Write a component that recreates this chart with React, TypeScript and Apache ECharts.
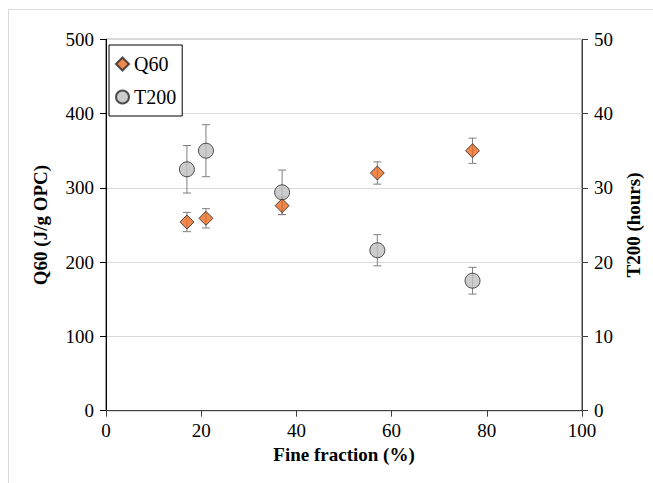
import React, { useEffect, useRef } from "react";
import * as echarts from "echarts";

const fineFraction = [17, 21, 37, 57, 77];
const q60 = [254, 259, 276, 320, 350];
const q60Err = [13, 13, 12, 15, 17];
const t200 = [32.5, 35.0, 29.4, 21.6, 17.5];
const t200Err = [3.2, 3.5, 3.0, 2.1, 1.8];

const FONT = "Liberation Serif";

function errRender(params: any, api: any) {
  const x = api.value(0);
  const y = api.value(1);
  const e = api.value(2);
  const top = api.coord([x, y + e]);
  const bot = api.coord([x, y - e]);
  const hw = 4;
  const style = { stroke: "#7f7f7f", lineWidth: 1 };
  return {
    type: "group",
    children: [
      { type: "line", shape: { x1: top[0], y1: top[1], x2: bot[0], y2: bot[1] }, style },
      { type: "line", shape: { x1: top[0] - hw, y1: top[1], x2: top[0] + hw, y2: top[1] }, style },
      { type: "line", shape: { x1: bot[0] - hw, y1: bot[1], x2: bot[0] + hw, y2: bot[1] }, style },
    ],
  };
}

export default function App() {
  const ref = useRef<HTMLDivElement>(null);
  useEffect(() => {
    if (!ref.current) return;
    const chart = echarts.init(ref.current, null, { renderer: "svg" });
    const axisLabel = { fontFamily: FONT, fontSize: 19, color: "#000" };
    const nameStyle = { fontFamily: FONT, fontSize: 19, fontWeight: "bold" as const, color: "#000" };
    chart.setOption({
      animation: false,
      backgroundColor: "#fff",
      textStyle: { fontFamily: FONT },
      graphic: [
        {
          type: "rect",
          shape: { x: 8.5, y: 9.5, width: 800, height: 800 },
          style: { fill: "none", stroke: "#d9d9d9", lineWidth: 1 },
          silent: true,
          z: -10,
        },
      ],
      grid: {
        left: 106,
        right: 71,
        top: 39.3,
        bottom: 72.3,
        show: true,
        borderColor: "#404040",
        borderWidth: 1,
        backgroundColor: "transparent",
      },
      legend: {
        data: ["Q60", "T200"],
        orient: "vertical",
        left: 109,
        top: 45,
        itemWidth: 13,
        itemHeight: 13,
        itemGap: 13,
        padding: [9, 6, 9, 6],
        borderColor: "#000",
        borderWidth: 1,
        backgroundColor: "#fff",
        selectedMode: false,
        textStyle: { fontFamily: FONT, fontSize: 20, color: "#000" },
      },
      xAxis: {
        type: "value",
        min: 0,
        max: 100,
        interval: 20,
        name: "Fine fraction (%)",
        nameLocation: "middle",
        nameGap: 25,
        nameTextStyle: nameStyle,
        axisLine: { show: true, lineStyle: { color: "#404040", width: 1 } },
        axisTick: { show: true, inside: false, length: 6, lineStyle: { color: "#404040" } },
        axisLabel: { ...axisLabel, margin: 10 },
        splitLine: { show: false },
      },
      yAxis: [
        {
          type: "value",
          min: 0,
          max: 500,
          interval: 100,
          name: "Q60 (J/g OPC)",
          nameLocation: "middle",
          nameGap: 56,
          nameRotate: 90,
          nameTextStyle: nameStyle,
          axisLine: { show: true, onZero: false, lineStyle: { color: "#000", width: 1 } },
          axisTick: { show: true, inside: false, length: 6, lineStyle: { color: "#000" } },
          axisLabel: { ...axisLabel, margin: 12 },
          splitLine: { show: true, lineStyle: { color: "#d9d9d9", width: 1 } },
        },
        {
          type: "value",
          min: 0,
          max: 50,
          interval: 10,
          position: "right",
          name: "T200 (hours)",
          nameLocation: "middle",
          nameGap: 40,
          nameRotate: 90,
          nameTextStyle: nameStyle,
          axisLine: { show: true, onZero: false, lineStyle: { color: "#404040", width: 1 } },
          axisTick: { show: true, inside: false, length: 6, lineStyle: { color: "#404040" } },
          axisLabel: { ...axisLabel, margin: 12 },
          splitLine: { show: false },
        },
      ],
      series: [
        {
          name: "Q60 err",
          type: "custom",
          yAxisIndex: 0,
          renderItem: errRender,
          encode: { x: 0, y: 1 },
          data: fineFraction.map((x, i) => [x, q60[i], q60Err[i]]),
          z: 1,
          silent: true,
        },
        {
          name: "T200 err",
          type: "custom",
          yAxisIndex: 1,
          renderItem: errRender,
          encode: { x: 0, y: 1 },
          data: fineFraction.map((x, i) => [x, t200[i], t200Err[i]]),
          z: 1,
          silent: true,
        },
        {
          name: "T200",
          type: "scatter",
          yAxisIndex: 1,
          symbol: "circle",
          symbolSize: 15,
          itemStyle: { color: "#bfbfbf", borderColor: "#262626", borderWidth: 1 },
          data: fineFraction.map((x, i) => [x, t200[i]]),
          z: 3,
        },
        {
          name: "Q60",
          type: "scatter",
          yAxisIndex: 0,
          symbol: "diamond",
          symbolSize: 14,
          itemStyle: { color: "#ea6a1f", borderColor: "#262626", borderWidth: 1 },
          data: fineFraction.map((x, i) => [x, q60[i]]),
          z: 4,
        },
      ],
    });
    return () => chart.dispose();
  }, []);
  return (
    <div
      ref={ref}
      style={{ position: "absolute", left: 0, top: 0, width: 653, height: 483, background: "#fff" }}
    />
  );
}
